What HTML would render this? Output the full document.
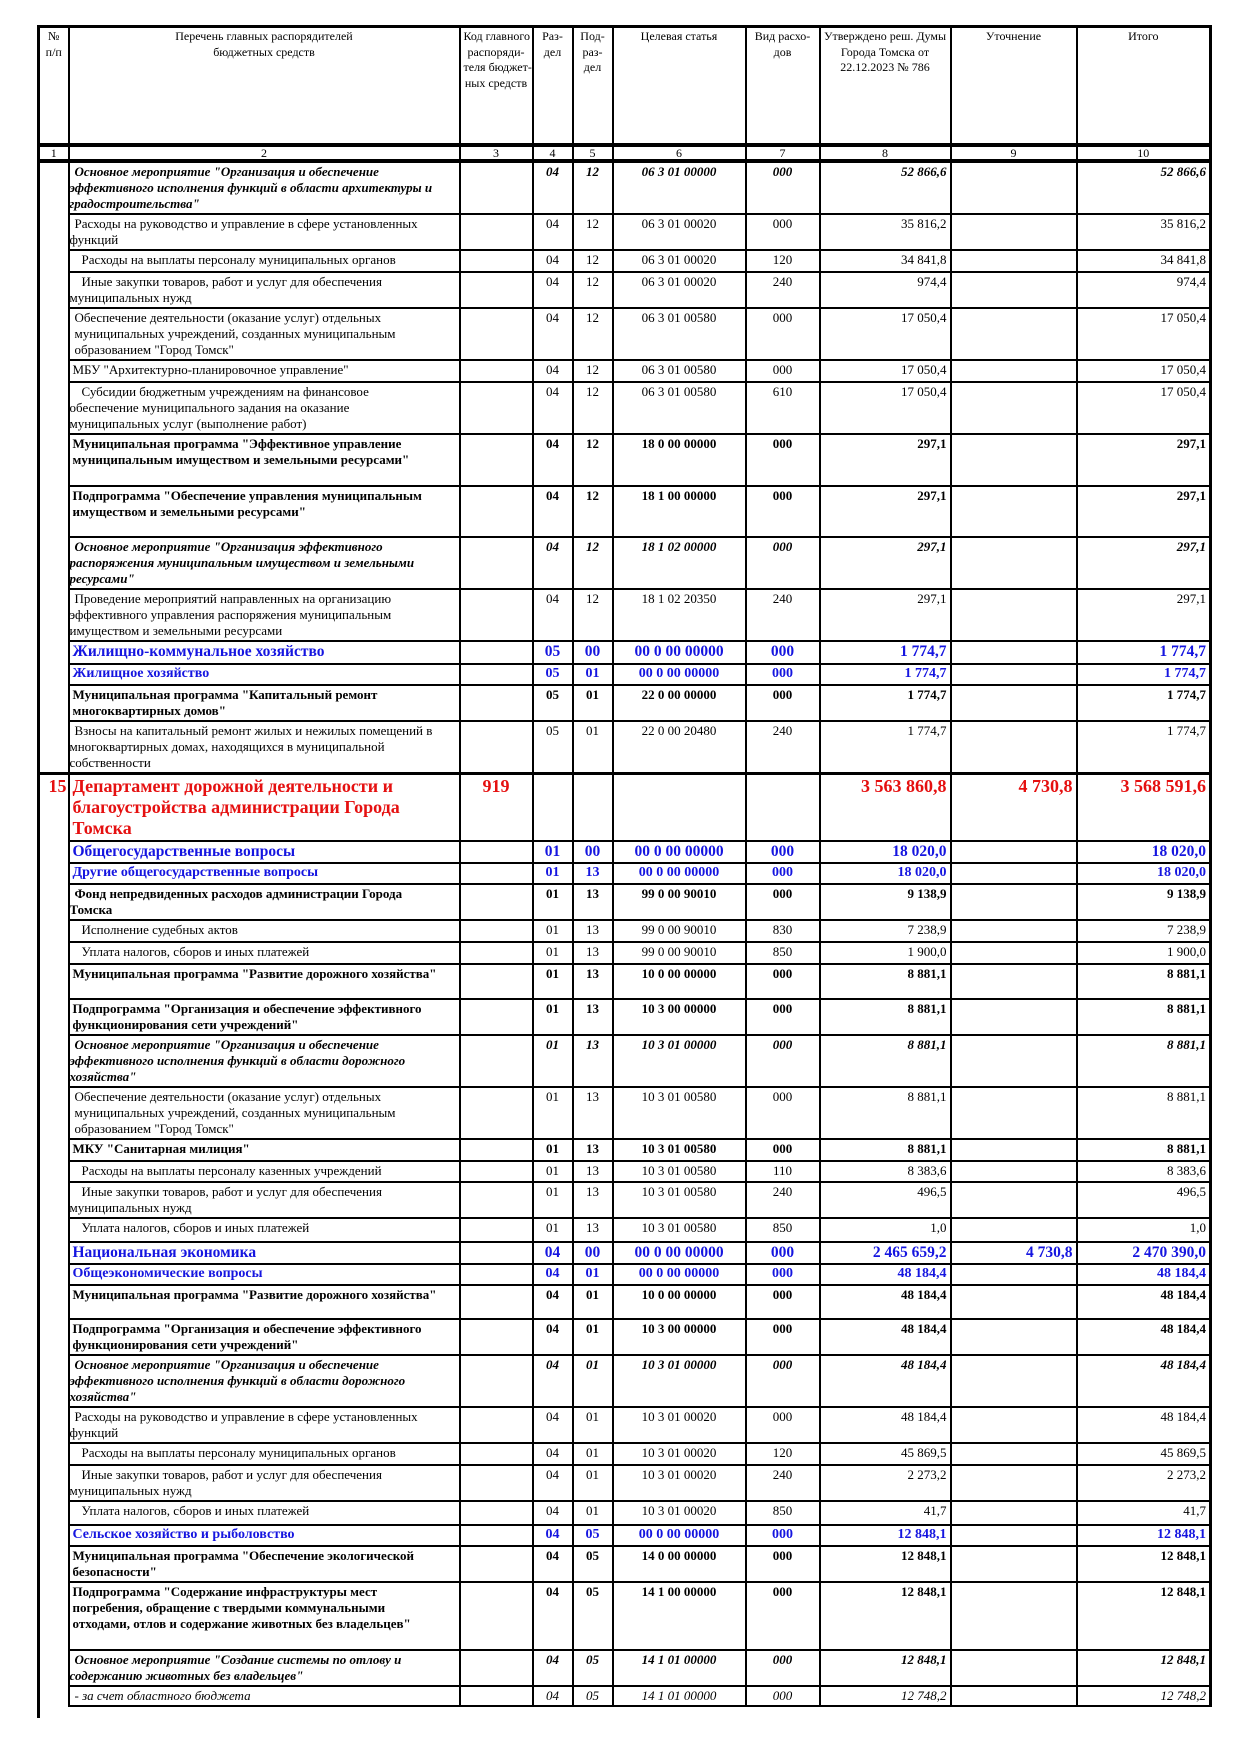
<!DOCTYPE html>
<html><head><meta charset="utf-8">
<style>
html,body{margin:0;padding:0;background:#fff;}
body{width:1240px;height:1754px;position:relative;overflow:hidden;font-family:"Liberation Serif",serif;color:#000;}
table{position:absolute;left:37px;top:25px;border-collapse:collapse;table-layout:fixed;width:1172px;}
td{border:2px solid #000;vertical-align:top;padding:1px 3px;font-size:13px;line-height:16px;white-space:nowrap;overflow:hidden;}
td.n{border-top:none;border-bottom:none;border-left:3px solid #000;text-align:right;}
.h td{font-size:12px;line-height:15.5px;text-align:center;border-top:3px solid #000;border-bottom:4px solid #000;}
.num td{font-size:12px;line-height:12px;text-align:center;padding:0 3px;border-bottom:4px solid #000;}
td.c{text-align:center;}
td.r{text-align:right;}
tr.bi td{font-weight:bold;font-style:italic;}
tr.b td{font-weight:bold;}
tr.bl td{font-weight:bold;color:#1515e0;font-size:14px;}
tr.bl1 td{font-weight:bold;color:#1515e0;font-size:15.5px;line-height:18px;}
tr.red td{font-weight:bold;color:#e51010;font-size:18px;line-height:21px;border-top:3px solid #000;}
tr.it td{font-style:italic;}
td.lastc{border-right:3px solid #000;}
.i1{padding-left:5px;}
.i2{padding-left:12px;}
</style></head><body>
<table>
<colgroup><col style="width:30px"><col style="width:391px"><col style="width:73px"><col style="width:40px"><col style="width:40px"><col style="width:133px"><col style="width:74px"><col style="width:131px"><col style="width:126px"><col style="width:134px"></colgroup>
<tr class="h" style="height:118px"><td style="border-left:3px solid #000">№<br>п/п</td><td>Перечень главных распорядителей<br>бюджетных средств</td><td>Код главного<br>распоряди-<br>теля бюджет-<br>ных средств</td><td>Раз-<br>дел</td><td>Под-<br>раз-<br>дел</td><td>Целевая статья</td><td>Вид расхо-<br>дов</td><td>Утверждено реш. Думы<br>Города Томска от<br>22.12.2023 № 786</td><td>Уточнение</td><td class="lastc">Итого</td></tr>
<tr class="num" style="height:15px"><td style="border-left:3px solid #000">1</td><td>2</td><td>3</td><td>4</td><td>5</td><td>6</td><td>7</td><td>8</td><td>9</td><td class="lastc">10</td></tr>

<tr class="bi" style="height:53px"><td class="n"></td><td class="i1">Основное мероприятие "Организация и обеспечение<br><span style="margin-left:-5px">эффективного исполнения функций в области архитектуры и</span><br><span style="margin-left:-5px">градостроительства"</span></td><td></td><td class="c">04</td><td class="c">12</td><td class="c">06 3 01 00000</td><td class="c">000</td><td class="r">52 866,6</td><td></td><td class="r lastc">52 866,6</td></tr>
<tr style="height:36px"><td class="n"></td><td class="i1">Расходы на руководство и управление в сфере установленных<br><span style="margin-left:-5px">функций</span></td><td></td><td class="c">04</td><td class="c">12</td><td class="c">06 3 01 00020</td><td class="c">000</td><td class="r">35 816,2</td><td></td><td class="r lastc">35 816,2</td></tr>
<tr style="height:22px"><td class="n"></td><td class="i2">Расходы на выплаты персоналу муниципальных органов</td><td></td><td class="c">04</td><td class="c">12</td><td class="c">06 3 01 00020</td><td class="c">120</td><td class="r">34 841,8</td><td></td><td class="r lastc">34 841,8</td></tr>
<tr style="height:35px"><td class="n"></td><td class="i2">Иные закупки товаров, работ и услуг для обеспечения<br><span style="margin-left:-12px">муниципальных нужд</span></td><td></td><td class="c">04</td><td class="c">12</td><td class="c">06 3 01 00020</td><td class="c">240</td><td class="r">974,4</td><td></td><td class="r lastc">974,4</td></tr>
<tr style="height:52px"><td class="n"></td><td class="i1">Обеспечение деятельности (оказание услуг) отдельных<br>муниципальных учреждений, созданных муниципальным<br>образованием "Город Томск"</td><td></td><td class="c">04</td><td class="c">12</td><td class="c">06 3 01 00580</td><td class="c">000</td><td class="r">17 050,4</td><td></td><td class="r lastc">17 050,4</td></tr>
<tr style="height:22px"><td class="n"></td><td>МБУ "Архитектурно-планировочное управление"</td><td></td><td class="c">04</td><td class="c">12</td><td class="c">06 3 01 00580</td><td class="c">000</td><td class="r">17 050,4</td><td></td><td class="r lastc">17 050,4</td></tr>
<tr style="height:51px"><td class="n"></td><td class="i2">Субсидии бюджетным учреждениям на финансовое<br><span style="margin-left:-12px">обеспечение муниципального задания на оказание</span><br><span style="margin-left:-12px">муниципальных услуг (выполнение работ)</span></td><td></td><td class="c">04</td><td class="c">12</td><td class="c">06 3 01 00580</td><td class="c">610</td><td class="r">17 050,4</td><td></td><td class="r lastc">17 050,4</td></tr>
<tr class="b" style="height:52px"><td class="n"></td><td>Муниципальная программа "Эффективное управление<br>муниципальным имуществом и земельными ресурсами"</td><td></td><td class="c">04</td><td class="c">12</td><td class="c">18 0 00 00000</td><td class="c">000</td><td class="r">297,1</td><td></td><td class="r lastc">297,1</td></tr>
<tr class="b" style="height:51px"><td class="n"></td><td>Подпрограмма "Обеспечение управления муниципальным<br>имуществом и земельными ресурсами"</td><td></td><td class="c">04</td><td class="c">12</td><td class="c">18 1 00 00000</td><td class="c">000</td><td class="r">297,1</td><td></td><td class="r lastc">297,1</td></tr>
<tr class="bi" style="height:52px"><td class="n"></td><td class="i1">Основное мероприятие "Организация эффективного<br><span style="margin-left:-5px">распоряжения муниципальным имуществом и земельными</span><br><span style="margin-left:-5px">ресурсами"</span></td><td></td><td class="c">04</td><td class="c">12</td><td class="c">18 1 02 00000</td><td class="c">000</td><td class="r">297,1</td><td></td><td class="r lastc">297,1</td></tr>
<tr style="height:51px"><td class="n"></td><td class="i1">Проведение мероприятий направленных на организацию<br><span style="margin-left:-5px">эффективного управления распоряжения муниципальным</span><br><span style="margin-left:-5px">имуществом и земельными ресурсами</span></td><td></td><td class="c">04</td><td class="c">12</td><td class="c">18 1 02 20350</td><td class="c">240</td><td class="r">297,1</td><td></td><td class="r lastc">297,1</td></tr>
<tr class="bl1" style="height:23px"><td class="n"></td><td>Жилищно-коммунальное хозяйство</td><td></td><td class="c">05</td><td class="c">00</td><td class="c">00 0 00 00000</td><td class="c">000</td><td class="r">1 774,7</td><td></td><td class="r lastc">1 774,7</td></tr>
<tr class="bl" style="height:21px"><td class="n"></td><td>Жилищное хозяйство</td><td></td><td class="c">05</td><td class="c">01</td><td class="c">00 0 00 00000</td><td class="c">000</td><td class="r">1 774,7</td><td></td><td class="r lastc">1 774,7</td></tr>
<tr class="b" style="height:35px"><td class="n"></td><td>Муниципальная программа "Капитальный ремонт<br>многоквартирных домов"</td><td></td><td class="c">05</td><td class="c">01</td><td class="c">22 0 00 00000</td><td class="c">000</td><td class="r">1 774,7</td><td></td><td class="r lastc">1 774,7</td></tr>
<tr style="height:51px"><td class="n"></td><td class="i1">Взносы на капитальный ремонт жилых и нежилых помещений в<br><span style="margin-left:-5px">многоквартирных домах, находящихся в муниципальной</span><br><span style="margin-left:-5px">собственности</span></td><td></td><td class="c">05</td><td class="c">01</td><td class="c">22 0 00 20480</td><td class="c">240</td><td class="r">1 774,7</td><td></td><td class="r lastc">1 774,7</td></tr>
<tr class="red" style="height:66px"><td class="n" style="border-top:3px solid #000;padding:1px 1px">15</td><td>Департамент дорожной деятельности и<br>благоустройства администрации Города<br>Томска</td><td class="c">919</td><td></td><td></td><td></td><td></td><td class="r">3 563 860,8</td><td class="r">4 730,8</td><td class="r lastc">3 568 591,6</td></tr>
<tr class="bl1" style="height:22px"><td class="n"></td><td>Общегосударственные вопросы</td><td></td><td class="c">01</td><td class="c">00</td><td class="c">00 0 00 00000</td><td class="c">000</td><td class="r">18 020,0</td><td></td><td class="r lastc">18 020,0</td></tr>
<tr class="bl" style="height:21px"><td class="n"></td><td>Другие общегосударственные вопросы</td><td></td><td class="c">01</td><td class="c">13</td><td class="c">00 0 00 00000</td><td class="c">000</td><td class="r">18 020,0</td><td></td><td class="r lastc">18 020,0</td></tr>
<tr class="b" style="height:35px"><td class="n"></td><td class="i1">Фонд непредвиденных расходов администрации Города<br><span style="margin-left:-5px">Томска</span></td><td></td><td class="c">01</td><td class="c">13</td><td class="c">99 0 00 90010</td><td class="c">000</td><td class="r">9 138,9</td><td></td><td class="r lastc">9 138,9</td></tr>
<tr style="height:22px"><td class="n"></td><td class="i2">Исполнение судебных актов</td><td></td><td class="c">01</td><td class="c">13</td><td class="c">99 0 00 90010</td><td class="c">830</td><td class="r">7 238,9</td><td></td><td class="r lastc">7 238,9</td></tr>
<tr style="height:22px"><td class="n"></td><td class="i2">Уплата налогов, сборов и иных платежей</td><td></td><td class="c">01</td><td class="c">13</td><td class="c">99 0 00 90010</td><td class="c">850</td><td class="r">1 900,0</td><td></td><td class="r lastc">1 900,0</td></tr>
<tr class="b" style="height:35px"><td class="n"></td><td>Муниципальная программа "Развитие дорожного хозяйства"</td><td></td><td class="c">01</td><td class="c">13</td><td class="c">10 0 00 00000</td><td class="c">000</td><td class="r">8 881,1</td><td></td><td class="r lastc">8 881,1</td></tr>
<tr class="b" style="height:34px"><td class="n"></td><td>Подпрограмма "Организация и обеспечение эффективного<br>функционирования сети учреждений"</td><td></td><td class="c">01</td><td class="c">13</td><td class="c">10 3 00 00000</td><td class="c">000</td><td class="r">8 881,1</td><td></td><td class="r lastc">8 881,1</td></tr>
<tr class="bi" style="height:51px"><td class="n"></td><td class="i1">Основное мероприятие "Организация и обеспечение<br><span style="margin-left:-5px">эффективного исполнения функций в области дорожного</span><br><span style="margin-left:-5px">хозяйства"</span></td><td></td><td class="c">01</td><td class="c">13</td><td class="c">10 3 01 00000</td><td class="c">000</td><td class="r">8 881,1</td><td></td><td class="r lastc">8 881,1</td></tr>
<tr style="height:52px"><td class="n"></td><td class="i1">Обеспечение деятельности (оказание услуг) отдельных<br>муниципальных учреждений, созданных муниципальным<br>образованием "Город Томск"</td><td></td><td class="c">01</td><td class="c">13</td><td class="c">10 3 01 00580</td><td class="c">000</td><td class="r">8 881,1</td><td></td><td class="r lastc">8 881,1</td></tr>
<tr class="b" style="height:22px"><td class="n"></td><td>МКУ "Санитарная милиция"</td><td></td><td class="c">01</td><td class="c">13</td><td class="c">10 3 01 00580</td><td class="c">000</td><td class="r">8 881,1</td><td></td><td class="r lastc">8 881,1</td></tr>
<tr style="height:21px"><td class="n"></td><td class="i2">Расходы на выплаты персоналу казенных учреждений</td><td></td><td class="c">01</td><td class="c">13</td><td class="c">10 3 01 00580</td><td class="c">110</td><td class="r">8 383,6</td><td></td><td class="r lastc">8 383,6</td></tr>
<tr style="height:35px"><td class="n"></td><td class="i2">Иные закупки товаров, работ и услуг для обеспечения<br><span style="margin-left:-12px">муниципальных нужд</span></td><td></td><td class="c">01</td><td class="c">13</td><td class="c">10 3 01 00580</td><td class="c">240</td><td class="r">496,5</td><td></td><td class="r lastc">496,5</td></tr>
<tr style="height:24px"><td class="n"></td><td class="i2">Уплата налогов, сборов и иных платежей</td><td></td><td class="c">01</td><td class="c">13</td><td class="c">10 3 01 00580</td><td class="c">850</td><td class="r">1,0</td><td></td><td class="r lastc">1,0</td></tr>
<tr class="bl1" style="height:22px"><td class="n"></td><td>Национальная экономика</td><td></td><td class="c">04</td><td class="c">00</td><td class="c">00 0 00 00000</td><td class="c">000</td><td class="r">2 465 659,2</td><td class="r">4 730,8</td><td class="r lastc">2 470 390,0</td></tr>
<tr class="bl" style="height:21px"><td class="n"></td><td>Общеэкономические вопросы</td><td></td><td class="c">04</td><td class="c">01</td><td class="c">00 0 00 00000</td><td class="c">000</td><td class="r">48 184,4</td><td></td><td class="r lastc">48 184,4</td></tr>
<tr class="b" style="height:34px"><td class="n"></td><td>Муниципальная программа "Развитие дорожного хозяйства"</td><td></td><td class="c">04</td><td class="c">01</td><td class="c">10 0 00 00000</td><td class="c">000</td><td class="r">48 184,4</td><td></td><td class="r lastc">48 184,4</td></tr>
<tr class="b" style="height:33px"><td class="n"></td><td>Подпрограмма "Организация и обеспечение эффективного<br>функционирования сети учреждений"</td><td></td><td class="c">04</td><td class="c">01</td><td class="c">10 3 00 00000</td><td class="c">000</td><td class="r">48 184,4</td><td></td><td class="r lastc">48 184,4</td></tr>
<tr class="bi" style="height:52px"><td class="n"></td><td class="i1">Основное мероприятие "Организация и обеспечение<br><span style="margin-left:-5px">эффективного исполнения функций в области дорожного</span><br><span style="margin-left:-5px">хозяйства"</span></td><td></td><td class="c">04</td><td class="c">01</td><td class="c">10 3 01 00000</td><td class="c">000</td><td class="r">48 184,4</td><td></td><td class="r lastc">48 184,4</td></tr>
<tr style="height:34px"><td class="n"></td><td class="i1">Расходы на руководство и управление в сфере установленных<br><span style="margin-left:-5px">функций</span></td><td></td><td class="c">04</td><td class="c">01</td><td class="c">10 3 01 00020</td><td class="c">000</td><td class="r">48 184,4</td><td></td><td class="r lastc">48 184,4</td></tr>
<tr style="height:22px"><td class="n"></td><td class="i2">Расходы на выплаты персоналу муниципальных органов</td><td></td><td class="c">04</td><td class="c">01</td><td class="c">10 3 01 00020</td><td class="c">120</td><td class="r">45 869,5</td><td></td><td class="r lastc">45 869,5</td></tr>
<tr style="height:33px"><td class="n"></td><td class="i2">Иные закупки товаров, работ и услуг для обеспечения<br><span style="margin-left:-12px">муниципальных нужд</span></td><td></td><td class="c">04</td><td class="c">01</td><td class="c">10 3 01 00020</td><td class="c">240</td><td class="r">2 273,2</td><td></td><td class="r lastc">2 273,2</td></tr>
<tr style="height:24px"><td class="n"></td><td class="i2">Уплата налогов, сборов и иных платежей</td><td></td><td class="c">04</td><td class="c">01</td><td class="c">10 3 01 00020</td><td class="c">850</td><td class="r">41,7</td><td></td><td class="r lastc">41,7</td></tr>
<tr class="bl" style="height:21px"><td class="n"></td><td>Сельское хозяйство и рыболовство</td><td></td><td class="c">04</td><td class="c">05</td><td class="c">00 0 00 00000</td><td class="c">000</td><td class="r">12 848,1</td><td></td><td class="r lastc">12 848,1</td></tr>
<tr class="b" style="height:34px"><td class="n"></td><td>Муниципальная программа "Обеспечение экологической<br>безопасности"</td><td></td><td class="c">04</td><td class="c">05</td><td class="c">14 0 00 00000</td><td class="c">000</td><td class="r">12 848,1</td><td></td><td class="r lastc">12 848,1</td></tr>
<tr class="b" style="height:68px"><td class="n"></td><td>Подпрограмма "Содержание инфраструктуры мест<br>погребения, обращение с твердыми коммунальными<br>отходами, отлов и содержание животных без владельцев"</td><td></td><td class="c">04</td><td class="c">05</td><td class="c">14 1 00 00000</td><td class="c">000</td><td class="r">12 848,1</td><td></td><td class="r lastc">12 848,1</td></tr>
<tr class="bi" style="height:34px"><td class="n"></td><td class="i1">Основное мероприятие "Создание системы по отлову и<br><span style="margin-left:-5px">содержанию животных без владельцев"</span></td><td></td><td class="c">04</td><td class="c">05</td><td class="c">14 1 01 00000</td><td class="c">000</td><td class="r">12 848,1</td><td></td><td class="r lastc">12 848,1</td></tr>
<tr class="it" style="height:20px"><td class="n"></td><td class="i1">- за счет областного бюджета</td><td></td><td class="c">04</td><td class="c">05</td><td class="c">14 1 01 00000</td><td class="c">000</td><td class="r">12 748,2</td><td></td><td class="r lastc">12 748,2</td></tr>
</table>
<div style="position:absolute;left:37px;top:1690px;width:3px;height:28px;background:#000"></div>
</body></html>
